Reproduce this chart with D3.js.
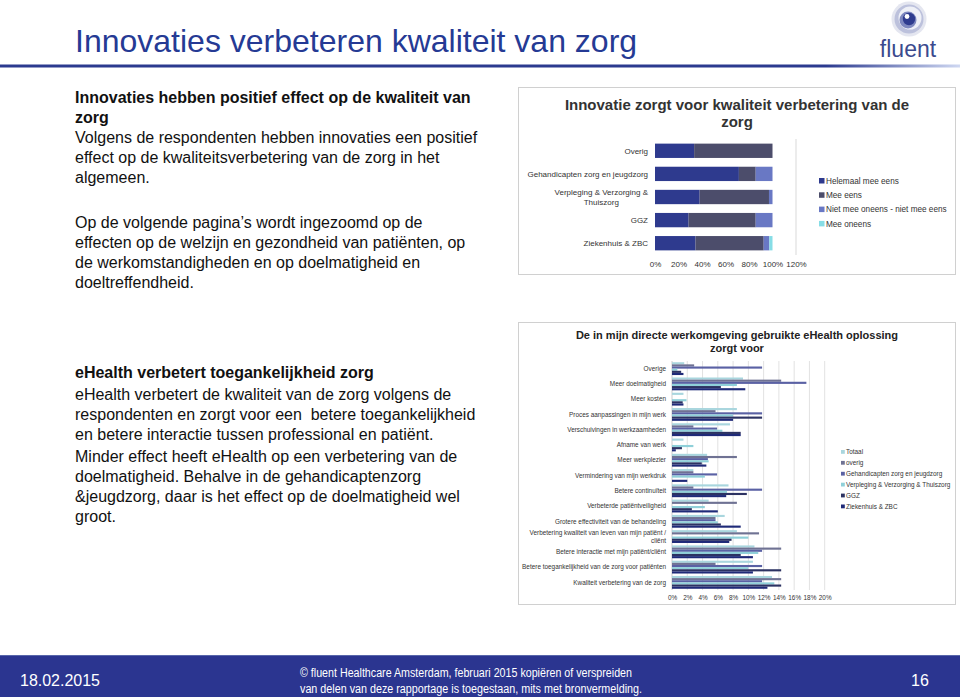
<!DOCTYPE html>
<html>
<head>
<meta charset="utf-8">
<script src="https://cdn.jsdelivr.net/npm/d3@7"></script>
<style>
body { margin: 0; background: #fff; }
svg { display: block; font-family: Arial, "Liberation Sans", sans-serif; }
</style>
</head>
<body>
<div id="container"></div>
<script>
// slide texts
var slideTitle = "Innovaties verbeteren kwaliteit van zorg";
var block1Head = ["Innovaties hebben positief effect op de kwaliteit van", "zorg"];
var block1Body = ["Volgens de respondenten hebben innovaties een positief",
    "effect op de kwaliteitsverbetering van de zorg in het", "algemeen."];
var block2Body = ["Op de volgende pagina\u2019s wordt ingezoomd op de",
    "effecten op de welzijn en gezondheid van pati\u00ebnten, op",
    "de werkomstandigheden en op doelmatigheid en", "doeltreffendheid."];
var block3Head = ["eHealth verbetert toegankelijkheid zorg"];
var block3Body = ["eHealth verbetert de kwaliteit van de zorg volgens de",
    "respondenten en zorgt voor een  betere toegankelijkheid",
    "en betere interactie tussen professional en pati\u00ebnt."];
var block4Body = ["Minder effect heeft eHealth op een verbetering van de",
    "doelmatigheid. Behalve in de gehandicaptenzorg",
    "&jeugdzorg, daar is het effect op de doelmatigheid wel", "groot."];

// chart 1: innovatie en kwaliteit (percent of respondents)
var topTitle = ["Innovatie zorgt voor kwaliteit verbetering van de", "zorg"];
var topCategories = ["Overig", "Gehandicapten zorg en jeugdzorg", "Verpleging & Verzorging & Thuiszorg", "GGZ", "Ziekenhuis & ZBC"];
var topSeries = ["Helemaal mee eens", "Mee eens", "Niet mee oneens - niet mee eens", "Mee oneens"];
var helemaalMeeEens = [33.3, 71.4, 38.0, 28.6, 34.5];
var meeEens = [66.7, 14.3, 59.0, 57.1, 58.0];
var nietMeeOneens = [0, 14.3, 3.0, 14.3, 4.8];
var meeOneens = [0, 0, 0, 0, 2.7];
var topTicks = [0, 20, 40, 60, 80, 100, 120];
var topColors = ["#2e3a8e", "#4c4d6b", "#6978c4", "#86dde6"];

// chart 2: eHealth oplossing zorgt voor (fraction)
var ehTitle = ["De in mijn directe werkomgeving gebruikte eHealth oplossing", "zorgt voor"];
var ehCategories = ["Overige", "Meer doelmatigheid", "Meer kosten", "Proces aanpassingen in mijn werk",
    "Verschuivingen in werkzaamheden", "Afname van werk", "Meer werkplezier", "Vermindering van mijn werkdruk",
    "Betere continu\u00efteit", "Verbeterde pati\u00ebntveiligheid", "Grotere effectiviteit van de behandeling",
    "Verbetering kwaliteit van leven van mijn pati\u00ebnt / cli\u00ebnt", "Betere interactie met mijn pati\u00ebnt/cli\u00ebnt",
    "Betere toegankelijkheid van de zorg voor pati\u00ebnten", "Kwaliteit verbetering van de zorg"];
var ehSeries = ["Totaal", "overig", "Gehandicapten zorg en jeugdzorg", "Verpleging & Verzorging & Thuiszorg", "GGZ", "Ziekenhuis & ZBC"];
var totaal = [1.6, 9.3, 1.5, 8.5, 7.6, 1.5, 4.6, 2.8, 7.4, 4.8, 6.9, 8.5, 10.8, 10.6, 13.1];
var overig = [2.9, 14.3, 0, 5.7, 2.8, 0, 8.5, 2.8, 2.8, 8.5, 5.7, 11.4, 14.3, 5.7, 14.3];
var gehandicapten = [11.8, 17.6, 0, 11.8, 5.9, 0, 4.7, 5.9, 11.8, 0, 5.7, 0, 11.8, 11.8, 11.8];
var verpleging = [0.7, 8.5, 1.9, 8.0, 6.6, 2.8, 4.8, 4.3, 7.2, 4.3, 6.0, 10.0, 11.3, 10.0, 13.4];
var ggz = [1.2, 6.4, 1.4, 11.8, 9.0, 1.3, 3.9, 0, 9.8, 2.6, 6.4, 7.8, 9.0, 14.3, 14.3];
var ziekenhuis = [1.5, 9.6, 1.5, 8.0, 9.0, 0.5, 4.5, 2.0, 7.1, 6.0, 9.0, 7.5, 10.6, 10.6, 12.5];
var ehTicks = [0, 0.02, 0.04, 0.06, 0.08, 0.10, 0.12, 0.14, 0.16, 0.18, 0.20];
var ehColors = ["#a9d6de", "#6f7293", "#5a61a4", "#8fd0d9", "#2c3262", "#1f2a78"];

var footDate = "18.02.2015";
var footCopy = ["\u00a9 fluent Healthcare Amsterdam, februari 2015 kopi\u00ebren of verspreiden",
    "van delen van deze rapportage is toegestaan, mits met bronvermelding."];
var footPage = "16";

var svg = d3.select("#container")
    .append("svg")
        .attr("width", 960)
        .attr("height", 697);

var defs = svg.append("defs");
var lg = defs.append("linearGradient").attr("id", "titleLine");
lg.append("stop").attr("offset", "0%").attr("stop-color", "#2b3a8f");
lg.append("stop").attr("offset", "86%").attr("stop-color", "#2b3a8f");
lg.append("stop").attr("offset", "100%").attr("stop-color", "#cfd8f2");

// title + rule
svg.append("text")
    .attr("x", 75)
    .attr("y", 52)
    .text(slideTitle)
    .attr("font-size", "32px")
    .attr("fill", "#253a94");
svg.append("rect")
    .attr("x", 0).attr("y", 64.5)
    .attr("width", 960).attr("height", 3)
    .attr("fill", "url(#titleLine)");

// logo
var logo = svg.append("g").attr("transform", "translate(909,19)");
logo.append("circle").attr("r", 17.5).attr("fill", "#e4e6f0");
logo.append("circle").attr("r", 14.5).attr("fill", "#bcc1dc");
logo.append("circle").attr("cx", 1).attr("cy", -1).attr("r", 11.5).attr("fill", "#eef0f7");
logo.append("circle").attr("cx", -1).attr("cy", 1).attr("r", 8.5).attr("fill", "#7e88bf");
logo.append("circle").attr("r", 6.2).attr("fill", "#2f3c8f");
logo.append("circle").attr("cx", -2).attr("cy", -2.5).attr("r", 2.4).attr("fill", "#ffffff");
svg.append("text")
    .attr("x", 908).attr("y", 57)
    .attr("text-anchor", "middle")
    .text("fluent")
    .attr("font-size", "23px")
    .attr("fill", "#3b4a8e");

// left text blocks
function lines(arr, y0, bold) {
    svg.append("g").selectAll("text")
    .data(arr)
    .enter()
    .append("text")
        .attr("x", 75)
        .attr("y", function(d, i){ return y0 + i * 20 })
        .text(function(d){ return d })
        .attr("font-size", "16px")
        .attr("font-weight", bold ? "bold" : "normal")
        .attr("fill", "#111")
        .style("white-space", "pre");
}
lines(block1Head, 103, true);
lines(block1Body, 143, false);
lines(block2Body, 228, false);
lines(block3Head, 378, true);
lines(block3Body, 400, false);
lines(block4Body, 462, false);

// word wrap for axis labels
function wrapLabel(g, label, x, y, maxW, lineH, fs, center) {
    var t = g.append("text").attr("font-size", fs).text(label);
    if (t.node().getComputedTextLength() <= maxW) {
        t.attr("x", x).attr("y", y).attr("dy", "0.35em").attr("text-anchor", "end");
        return;
    }
    var words = label.split(" "), out = [], cur = "";
    words.forEach(function(w) {
        var test = cur ? cur + " " + w : w;
        t.text(test);
        if (t.node().getComputedTextLength() > maxW && cur) { out.push(cur); cur = w; }
        else cur = test;
    });
    out.push(cur);
    var widths = out.map(function(s){ t.text(s); return t.node().getComputedTextLength(); });
    t.remove();
    var bw = d3.max(widths);
    out.forEach(function(s, i) {
        g.append("text")
            .attr("font-size", fs)
            .attr("x", center ? x - bw / 2 : x)
            .attr("y", y + (i - (out.length - 1) / 2) * lineH)
            .attr("dy", "0.35em")
            .attr("text-anchor", center ? "middle" : "end")
            .text(s);
    });
}

// ---------- chart 1 ----------
svg.append("rect")
    .attr("x", 518.5).attr("y", 87.5)
    .attr("width", 437).attr("height", 187)
    .attr("fill", "#fff").attr("stroke", "#d0d0d0");

svg.append("g").selectAll("text")
    .data(topTitle)
    .enter()
    .append("text")
        .attr("x", 737)
        .attr("y", function(d, i){ return 110 + i * 17 })
        .attr("text-anchor", "middle")
        .attr("font-size", "15px")
        .attr("font-weight", "bold")
        .attr("fill", "#333")
        .text(function(d){ return d });

var topTable = topCategories.map(function(c, i) {
    return {cat: c, "Helemaal mee eens": helemaalMeeEens[i], "Mee eens": meeEens[i],
        "Niet mee oneens - niet mee eens": nietMeeOneens[i], "Mee oneens": meeOneens[i]};
});
var topX = d3.scaleLinear().domain([0, 120]).range([655, 796]);
var topY = d3.scaleBand().domain(topCategories).range([139, 255]).paddingInner(0.38).paddingOuter(0.2);
var topColor = d3.scaleOrdinal().domain(topSeries).range(topColors);
var topStack = d3.stack().keys(topSeries)(topTable);

svg.append("line")
    .attr("x1", topX(120)).attr("x2", topX(120))
    .attr("y1", 139).attr("y2", 255)
    .attr("stroke", "#d9d9d9");

svg.append("g")
    .selectAll("g")
    .data(topStack)
    .enter()
    .append("g")
        .attr("fill", function(d){ return topColor(d.key) })
    .selectAll("rect")
    .data(function(d){ return d })
    .enter()
    .append("rect")
        .attr("x", function(d){ return topX(d[0]) })
        .attr("y", function(d){ return topY(d.data.cat) })
        .attr("width", function(d){ return topX(d[1]) - topX(d[0]) })
        .attr("height", topY.bandwidth());

var topLab = svg.append("g").attr("fill", "#333");
topCategories.forEach(function(c) {
    wrapLabel(topLab, c, 648, topY(c) + topY.bandwidth() / 2, 125, 10, "8px", true);
});

svg.append("g")
    .attr("transform", "translate(0,261)")
    .call(d3.axisBottom(topX).tickValues(topTicks).tickSize(0).tickPadding(0).tickFormat(function(d){ return d + "%" }))
    .call(function(g){ g.select(".domain").remove() })
    .selectAll("text")
        .attr("font-size", "8px")
        .attr("font-family", "Arial, 'Liberation Sans', sans-serif")
        .attr("fill", "#333");

var topLeg = svg.append("g").selectAll("g")
    .data(topSeries)
    .enter()
    .append("g")
        .attr("transform", function(d, i){ return "translate(819," + (181 + i * 14.3) + ")" });
topLeg.append("rect")
    .attr("x", 0).attr("y", -3)
    .attr("width", 5.5).attr("height", 5.5)
    .attr("fill", function(d){ return topColor(d) });
topLeg.append("text")
    .attr("x", 7).attr("dy", "0.35em")
    .attr("font-size", "8.2px")
    .attr("fill", "#333")
    .text(function(d){ return d });

// ---------- chart 2 ----------
svg.append("rect")
    .attr("x", 518.5).attr("y", 322.5)
    .attr("width", 437).attr("height", 282)
    .attr("fill", "#fff").attr("stroke", "#d0d0d0");

svg.append("g").selectAll("text")
    .data(ehTitle)
    .enter()
    .append("text")
        .attr("x", 737)
        .attr("y", function(d, i){ return 339 + i * 12.5 })
        .attr("text-anchor", "middle")
        .attr("font-size", "11px")
        .attr("font-weight", "bold")
        .attr("fill", "#222")
        .text(function(d){ return d });

var ehTable = ehCategories.map(function(c, i) {
    return {cat: c, vals: [totaal[i], overig[i], gehandicapten[i], verpleging[i], ggz[i], ziekenhuis[i]]};
});
var ehX = d3.scaleLinear().domain([0, 0.20]).range([672, 824.7]);
var ehY = d3.scaleBand().domain(ehCategories).range([361, 590]).paddingInner(0.16).paddingOuter(0.08);
var ehInner = d3.scaleBand().domain(ehSeries).range([0, ehY.bandwidth()]);
var ehColor = d3.scaleOrdinal().domain(ehSeries).range(ehColors);

svg.append("g").selectAll("line")
    .data(ehTicks)
    .enter()
    .append("line")
        .attr("x1", function(d){ return ehX(d) }).attr("x2", function(d){ return ehX(d) })
        .attr("y1", 361).attr("y2", 590)
        .attr("stroke", function(d){ return d == 0 ? "#bfbfbf" : "#d9d9d9" })
        .attr("stroke-width", 0.8);

svg.append("g")
    .selectAll("g")
    .data(ehTable)
    .enter()
    .append("g")
        .attr("transform", function(d){ return "translate(0," + ehY(d.cat) + ")" })
    .selectAll("rect")
    .data(function(d){ return d.vals.map(function(v, j){ return {key: ehSeries[j], value: v / 100} }) })
    .enter()
    .append("rect")
        .attr("x", ehX(0))
        .attr("y", function(d){ return ehInner(d.key) })
        .attr("width", function(d){ return ehX(d.value) - ehX(0) })
        .attr("height", ehInner.bandwidth())
        .attr("fill", function(d){ return ehColor(d.key) });

var ehLab = svg.append("g").attr("fill", "#333");
ehCategories.forEach(function(c) {
    wrapLabel(ehLab, c, 666, ehY(c) + ehY.bandwidth() / 2, 150, 8, "6.4px", false);
});

svg.append("g")
    .attr("transform", "translate(0,595)")
    .call(d3.axisBottom(ehX).tickValues(ehTicks).tickSize(0).tickPadding(0).tickFormat(d3.format(".0%")))
    .call(function(g){ g.select(".domain").remove() })
    .selectAll("text")
        .attr("font-size", "6.4px")
        .attr("font-family", "Arial, 'Liberation Sans', sans-serif")
        .attr("fill", "#333");

var ehLeg = svg.append("g").selectAll("g")
    .data(ehSeries)
    .enter()
    .append("g")
        .attr("transform", function(d, i){ return "translate(841," + (452 + i * 10.9) + ")" });
ehLeg.append("rect")
    .attr("x", 0).attr("y", -2)
    .attr("width", 3.8).attr("height", 3.8)
    .attr("fill", function(d){ return ehColor(d) });
ehLeg.append("text")
    .attr("x", 5).attr("dy", "0.35em")
    .attr("font-size", "6.4px")
    .attr("fill", "#333")
    .text(function(d){ return d });

// ---------- footer ----------
svg.append("rect")
    .attr("x", 0).attr("y", 655)
    .attr("width", 960).attr("height", 42)
    .attr("fill", "#2b3590");
svg.append("rect")
    .attr("x", 0).attr("y", 655)
    .attr("width", 960).attr("height", 1)
    .attr("fill", "#5866aa");
var foot = svg.append("g")
    .attr("fill", "#fff")
    .style("font-family", "'Liberation Sans Narrow', 'Arial Narrow', Arial, sans-serif");
foot.append("text")
    .attr("x", 20).attr("y", 686)
    .attr("font-size", "16px")
    .attr("textLength", 80).attr("lengthAdjust", "spacingAndGlyphs")
    .text(footDate);
foot.selectAll(".copy")
    .data(footCopy)
    .enter()
    .append("text")
        .attr("class", "copy")
        .attr("x", 300)
        .attr("y", function(d, i){ return 677 + i * 16 })
        .attr("font-size", "12px")
        .attr("textLength", function(d, i){ return i == 0 ? 332 : 342 })
        .attr("lengthAdjust", "spacingAndGlyphs")
        .text(function(d){ return d });
foot.append("text")
    .attr("x", 920).attr("y", 686)
    .attr("text-anchor", "middle")
    .attr("font-size", "16px")
    .text(footPage);
</script>
</body>
</html>
